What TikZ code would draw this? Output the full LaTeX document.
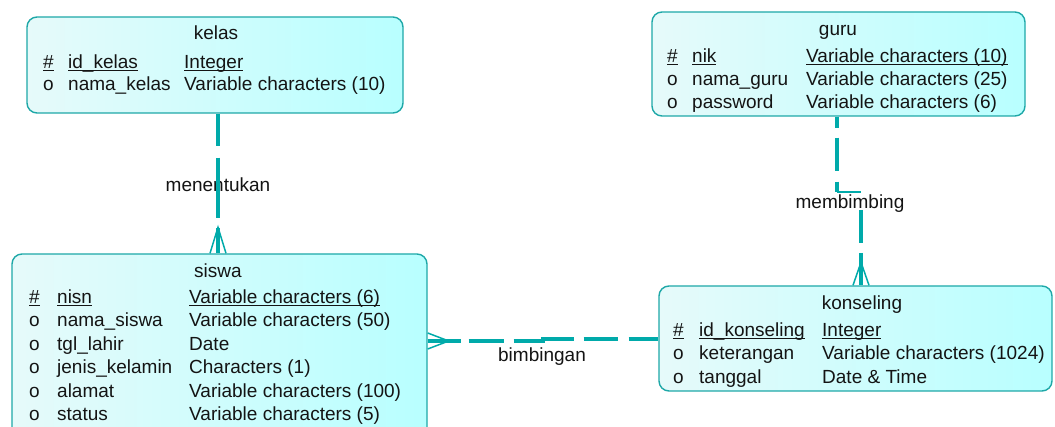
\documentclass[tikz,border=0pt]{standalone}
\usepackage{fontspec}
\setmainfont{Liberation Sans}
\usetikzlibrary{calc}

\definecolor{entline}{RGB}{30,168,168}
\definecolor{relline}{RGB}{0,170,170}
\definecolor{fillA}{RGB}{230,250,250}
\definecolor{fillB}{RGB}{184,255,255}
\definecolor{ink}{RGB}{20,20,20}

% primary-key cell: text with a solid underline
\newcommand\pk[1]{\setbox0\hbox{#1}\rlap{\rule[-2.6pt]{\wd0}{1.1pt}}\box0}

\tikzset{
  entity/.style={draw=entline, line width=1.4pt, rounded corners=10pt,
    left color=fillA, right color=fillB, inner sep=0pt},
  txt/.style={anchor=base west, inner sep=0pt, text=ink},
  ttl/.style={anchor=base, inner sep=0pt, text=ink},
  rel/.style={draw=relline, line width=3.4pt},
  jogline/.style={draw=relline, line width=2pt},
  foot/.style={draw=relline, line width=1.5pt},
  rellabel/.style={anchor=base, inner sep=0pt, text=ink},
}

\begin{document}
\begin{tikzpicture}[x=1pt, y=-1pt, font=\fontsize{19}{23}\selectfont]
\fill[white] (0,0) rectangle (1055,427);
\clip (0,0) rectangle (1055,427);

% ---------- entities ----------
\node[entity, minimum width=376pt, minimum height=96pt]  (kelas)     at (215,65)      {};
\node[entity, minimum width=373pt, minimum height=104pt] (guru)      at (838.5,64)    {};
\node[entity, minimum width=415pt, minimum height=183pt] (siswa)     at (219.5,345.5) {};
\node[entity, minimum width=393pt, minimum height=105pt] (konseling) at (855.5,338.5) {};

% kelas
\node[ttl] (kelas-title) at (216,39.5) {kelas};
\foreach \m/\n/\t [count=\i] in {
    {\pk{\#}}/{\pk{id\_kelas}}/{\pk{Integer}},
    o/{nama\_kelas}/{Variable characters (10)}} {
  \node[txt] (kelas-m\i) at (43,  {68.5+(\i-1)*22}) {\m};
  \node[txt] (kelas-n\i) at (68,  {68.5+(\i-1)*22}) {\n};
  \node[txt] (kelas-t\i) at (184, {68.5+(\i-1)*22}) {\t};
}

% guru
\node[ttl] (guru-title) at (838,35.5) {guru};
\foreach \m/\n/\t [count=\i] in {
    {\pk{\#}}/{\pk{nik}}/{\pk{Variable characters (10)}},
    o/{nama\_guru}/{Variable characters (25)},
    o/{password}/{Variable characters (6)}} {
  \node[txt] (guru-m\i) at (667, {62.5+(\i-1)*23}) {\m};
  \node[txt] (guru-n\i) at (692, {62.5+(\i-1)*23}) {\n};
  \node[txt] (guru-t\i) at (806, {62.5+(\i-1)*23}) {\t};
}

% siswa
\node[ttl] (siswa-title) at (218,277.5) {siswa};
\foreach \m/\n/\t [count=\i] in {
    {\pk{\#}}/{\pk{nisn}}/{\pk{Variable characters (6)}},
    o/{nama\_siswa}/{Variable characters (50)},
    o/{tgl\_lahir}/{Date},
    o/{jenis\_kelamin}/{Characters (1)},
    o/{alamat}/{Variable characters (100)},
    o/{status}/{Variable characters (5)}} {
  \node[txt] (siswa-m\i) at (29,  {303.5+(\i-1)*23.4}) {\m};
  \node[txt] (siswa-n\i) at (57,  {303.5+(\i-1)*23.4}) {\n};
  \node[txt] (siswa-t\i) at (189, {303.5+(\i-1)*23.4}) {\t};
}

% konseling
\node[ttl] (konseling-title) at (862,309.5) {konseling};
\foreach \m/\n/\t [count=\i] in {
    {\pk{\#}}/{\pk{id\_konseling}}/{\pk{Integer}},
    o/{keterangan}/{Variable characters (1024)},
    o/{tanggal}/{Date \& Time}} {
  \node[txt] (konseling-m\i) at (673, {336.5+(\i-1)*23.5}) {\m};
  \node[txt] (konseling-n\i) at (699, {336.5+(\i-1)*23.5}) {\n};
  \node[txt] (konseling-t\i) at (822, {336.5+(\i-1)*23.5}) {\t};
}

% ---------- relationships ----------
% kelas -- siswa : menentukan
\node[rellabel] (menentukan) at (218,191.5) {menentukan};
\draw[rel, dash pattern=on 32pt off 12pt on 60pt off 10pt on 40pt off 0pt]
  (kelas.south -| menentukan) -- (siswa.north -| menentukan);
\draw[foot] ($(siswa.north -| menentukan)+(-8,0)$)
  -- ($(siswa.north -| menentukan)+(0,-26)$)
  -- ($(siswa.north -| menentukan)+(8,0)$);

% guru -- konseling : membimbing (with a small jog at the middle)
\node[rellabel] (membimbing) at (850,208.5) {membimbing};
\coordinate (gx) at (837,0);
\coordinate (kx) at (861,0);
\coordinate (jog) at (0,192);
\coordinate (jog2) at (0,210);
\draw[rel, dash pattern=on 11pt off 10pt on 33pt off 11pt on 40pt off 0pt]
  (guru.south -| gx) -- (gx |- jog);
\draw[jogline] (gx |- jog) -- (kx |- jog);
\draw[rel, dash pattern=on 33pt off 10pt on 40pt off 0pt]
  (kx |- jog2) -- (konseling.north -| kx);
\draw[foot] ($(konseling.north -| kx)+(-8,0)$)
  -- ($(konseling.north -| kx)+(0,-23)$)
  -- ($(konseling.north -| kx)+(8,0)$);

% siswa -- konseling : bimbingan
\node[rellabel] (bimbingan) at (542,361.5) {bimbingan};
\coordinate (sy) at (0,341);
\coordinate (ky) at (0,339);
\coordinate (step) at (543,0);
\draw[rel, dash pattern=on 33pt off 8pt on 35pt off 10pt on 62pt off 10pt on 34pt off 11pt on 40pt off 0pt]
  (siswa.east |- sy) -- (step |- sy) -- (step |- ky) -- (konseling.west |- ky);
\draw[foot] ($(siswa.east |- sy)+(0,-8)$)
  -- ($(siswa.east |- sy)+(21,0)$)
  -- ($(siswa.east |- sy)+(0,8)$);
\end{tikzpicture}
\end{document}
